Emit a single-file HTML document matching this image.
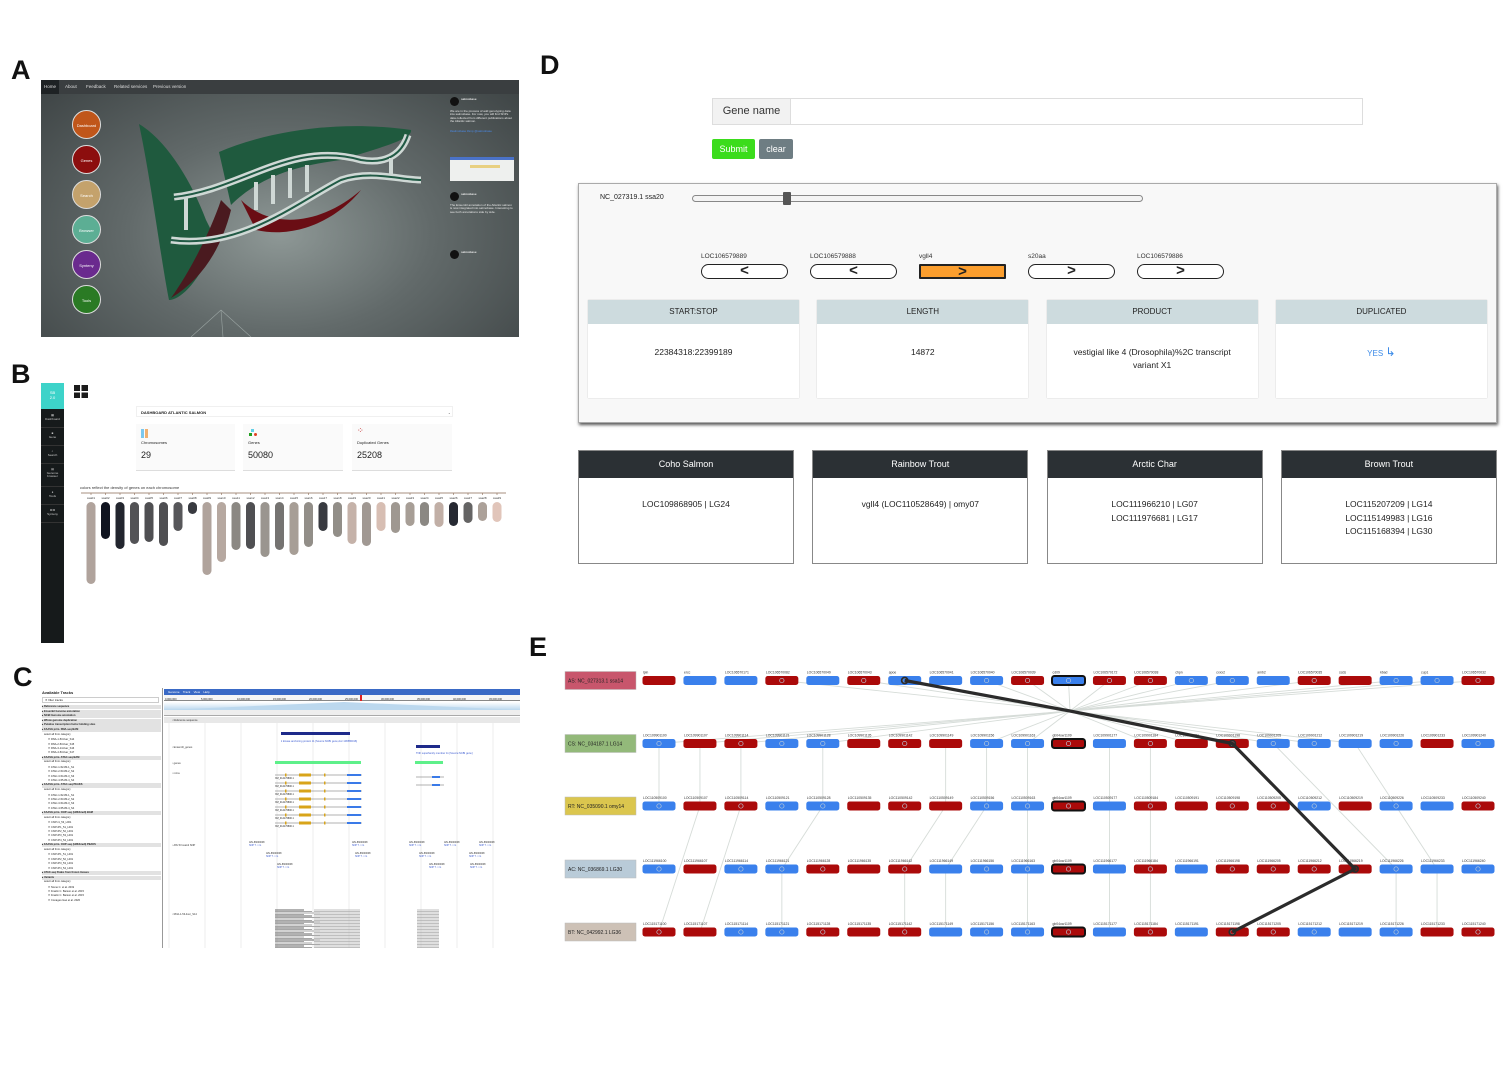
<!DOCTYPE html>
<html><head><meta charset="utf-8">
<style>
*{margin:0;padding:0;box-sizing:border-box}
body{width:1507px;height:1066px;background:#fff;position:relative;overflow:hidden;font-family:"Liberation Sans",sans-serif;color:#222}
.abs{position:absolute}
.plabel{position:absolute;font-size:27px;font-weight:bold;color:#111}
.t{position:absolute;white-space:nowrap}
</style></head><body>

<div class="plabel" style="left:11px;top:55px">A</div>
<div class="plabel" style="left:11px;top:359px">B</div>
<div class="plabel" style="left:13px;top:662px">C</div>
<div class="plabel" style="left:540px;top:50px">D</div>
<div class="plabel" style="left:529px;top:632px">E</div>

<!-- PANEL A -->
<div class="abs" style="left:41px;top:80px;width:478px;height:257px;background:radial-gradient(ellipse at 50% 60%,#8e9896 0%,#626a6a 45%,#3c4243 100%);overflow:hidden">
  <div class="abs" style="left:0;top:0;width:478px;height:14px;background:#3a3e40;font-size:4.5px;color:#ddd">
    <span class="t" style="left:0;top:0;width:18px;height:14px;background:#1e2224;padding:4px 0 0 3px">Home</span>
    <span class="t" style="left:24px;top:4px">About</span>
    <span class="t" style="left:45px;top:4px">Feedback</span>
    <span class="t" style="left:73px;top:4px">Related services</span>
    <span class="t" style="left:112px;top:4px">Previous version</span>
  </div>
  <svg class="abs" style="left:0;top:0" width="478" height="257">
    <path d="M98,44 C125,60 150,100 165,140 L175,160 C160,200 140,220 128,220 C120,180 110,100 98,44Z" fill="#1f5a3e"/>
    <path d="M130,218 C150,190 170,150 180,120 L190,130 C180,170 160,200 130,218Z" fill="#4a1a1f"/>
    <path d="M178,72 C230,50 300,40 370,50 C372,60 330,70 300,80 C260,85 220,95 190,125 Z" fill="#1f5a3e"/>
    <path d="M200,120 C230,150 280,145 320,110 C300,135 260,160 215,150 Z" fill="#6a0d14"/>
    <path d="M133,117 C200,110 250,60 320,80 C350,85 362,70 367,55" stroke="#cfd8d5" stroke-width="7" fill="none"/>
    <path d="M133,117 C200,110 250,60 320,80 C350,85 362,70 367,55" stroke="#215a45" stroke-width="2" fill="none"/>
    <path d="M130,160 C200,170 260,120 300,100 C330,90 360,100 380,100" stroke="#cfd8d5" stroke-width="7" fill="none"/>
    <path d="M130,160 C200,170 260,120 300,100 C330,90 360,100 380,100" stroke="#215a45" stroke-width="2" fill="none"/>
    <g stroke="#cfd8d5" stroke-width="4"><line x1="145" y1="118" x2="145" y2="150"/><line x1="215" y1="102" x2="215" y2="130"/><line x1="232" y1="95" x2="232" y2="124"/><line x1="249" y1="88" x2="249" y2="118"/><line x1="266" y1="85" x2="266" y2="112"/><line x1="350" y1="78" x2="350" y2="95"/></g>
    <path d="M180,230 L150,257 M180,230 L210,257 M180,230 L182,257" stroke="#9aa4a2" stroke-width="0.6" fill="none"/>
  </svg>
  <div class="abs" style="left:31px;top:30px;width:29px;height:29px;border-radius:50%;background:#c0561a;border:1px solid #ddd;font-size:4px;color:#fff;text-align:center;line-height:29px">Dashboard</div>
  <div class="abs" style="left:31px;top:65px;width:29px;height:29px;border-radius:50%;background:#8c0e0e;border:1px solid #ddd;font-size:4px;color:#fff;text-align:center;line-height:29px">Genes</div>
  <div class="abs" style="left:31px;top:100px;width:29px;height:29px;border-radius:50%;background:#c4a26c;border:1px solid #ddd;font-size:4px;color:#fff;text-align:center;line-height:29px">Search</div>
  <div class="abs" style="left:31px;top:135px;width:29px;height:29px;border-radius:50%;background:#5cae94;border:1px solid #ddd;font-size:4px;color:#fff;text-align:center;line-height:29px">Browser</div>
  <div class="abs" style="left:31px;top:170px;width:29px;height:29px;border-radius:50%;background:#6a2a8e;border:1px solid #ddd;font-size:4px;color:#fff;text-align:center;line-height:29px">Synteny</div>
  <div class="abs" style="left:31px;top:205px;width:29px;height:29px;border-radius:50%;background:#2a7a24;border:1px solid #ddd;font-size:4px;color:#fff;text-align:center;line-height:29px">Tools</div>
  <div class="abs" style="left:407px;top:14px;width:70px;height:243px;font-size:3px;color:#e8e8e8;line-height:3.4px">
    <div class="abs" style="left:2px;top:3px;width:9px;height:9px;border-radius:50%;background:#111"></div>
    <div class="t" style="left:13px;top:4px;font-weight:bold">salmobase</div>
    <div class="abs" style="left:2px;top:16px;width:64px;">We are in the process of add genotyping data into salmobase. For now, you will find SNPs data collected from different publications about the Atlantic salmon.</div>
    <div class="abs" style="left:2px;top:36px;width:64px;color:#4a8ae8">#salmobase #snp @salmobase</div>
    <div class="abs" style="left:2px;top:63px;width:64px;height:24px;background:#eef0ee"><div class="abs" style="left:0;top:0;width:64px;height:3px;background:#4a72c8"></div><div class="abs" style="left:20px;top:8px;width:30px;height:3px;background:#e8d080"></div></div>
    <div class="abs" style="left:2px;top:98px;width:9px;height:9px;border-radius:50%;background:#111"></div>
    <div class="t" style="left:13px;top:99px;font-weight:bold">salmobase</div>
    <div class="abs" style="left:2px;top:110px;width:64px;">The Ensembl annotation of the Atlantic salmon is now integrated into salmobase. Interesting to see both annotations side by side.</div>
    <div class="abs" style="left:2px;top:156px;width:9px;height:9px;border-radius:50%;background:#111"></div>
    <div class="t" style="left:13px;top:157px;font-weight:bold">salmobase</div>
  </div>
</div>

<!-- PANEL B -->
<div class="abs" style="left:41px;top:383px;width:23px;height:260px;background:#161a1b">
  <div class="abs" style="left:0;top:0;width:23px;height:26px;background:#3dd3c9;color:#fff;font-size:4px;text-align:center;padding-top:7px">SB<br>2.0</div>
  <div class="abs" style="left:0;top:27px;width:23px;font-size:3px;color:#ccc;text-align:center;line-height:3.5px">
    <div style="height:18px;border-bottom:1px solid #333;padding-top:4px">▦<br>Dashboard</div>
    <div style="height:18px;border-bottom:1px solid #333;padding-top:4px">■<br>Gene</div>
    <div style="height:18px;border-bottom:1px solid #333;padding-top:4px">⌕<br>Search</div>
    <div style="height:23px;border-bottom:1px solid #333;padding-top:4px">▤<br>Genome<br>browser</div>
    <div style="height:18px;border-bottom:1px solid #333;padding-top:4px">●<br>Tools</div>
    <div style="height:18px;border-bottom:1px solid #333;padding-top:4px">⊏⊐<br>Synteny</div>
  </div>
</div>
<div class="abs" style="left:74px;top:385px;width:14px;height:13px;background:linear-gradient(#fff,#fff) 6px 0/1.5px 13px no-repeat,linear-gradient(#fff,#fff) 0 6px/14px 1.5px no-repeat,#1b1b1b"></div>
<div class="abs" style="left:136px;top:406px;width:317px;height:11px;border:1px solid #f0f0f0;font-size:4px;font-weight:bold;padding:3px 0 0 4px">DASHBOARD ATLANTIC SALMON<span style="position:absolute;right:2px">-</span></div>
<div class="abs" style="left:136px;top:424px;width:99px;height:47px;background:#fafafa;border-bottom:1px solid #ddd">
  <div class="abs" style="left:5px;top:5px;width:3px;height:9px;background:#7cc8ee"></div><div class="abs" style="left:9px;top:5px;width:3px;height:9px;background:#f0b070"></div>
  <div class="t" style="left:5px;top:16px;font-size:4px">Chromosomes</div><div class="t" style="left:5px;top:26px;font-size:9px">29</div></div>
<div class="abs" style="left:243px;top:424px;width:100px;height:47px;background:#fafafa;border-bottom:1px solid #ddd">
  <div class="abs" style="left:8px;top:5px;width:3px;height:3px;background:#60d0e8"></div><div class="abs" style="left:6px;top:9px;width:3px;height:3px;background:#20a020"></div><div class="abs" style="left:11px;top:9px;width:3px;height:3px;border-radius:50%;background:#e04020"></div>
  <div class="t" style="left:5px;top:16px;font-size:4px">Genes</div><div class="t" style="left:5px;top:26px;font-size:9px">50080</div></div>
<div class="abs" style="left:352px;top:424px;width:100px;height:47px;background:#fafafa;border-bottom:1px solid #ddd">
  <div class="t" style="left:5px;top:2px;font-size:8px;color:#c02020">⁘</div>
  <div class="t" style="left:5px;top:16px;font-size:4px">Duplicated Genes</div><div class="t" style="left:5px;top:26px;font-size:9px">25208</div></div>
<div class="t" style="left:80px;top:485px;font-size:4px;color:#333">colors reflect the density of genes on each chromosome</div>
<svg class="abs" id="chromSvg" style="left:0;top:0" width="520" height="650"></svg>

<!-- PANEL C -->
<div class="abs" style="left:40px;top:688px;width:480px;height:260px;background:#fff;overflow:hidden;font-size:3px">
  <div class="abs" style="left:0;top:0;width:123px;height:260px;border-right:1px solid #999;background:#fff">
    <div class="t" style="left:2px;top:2px;font-weight:bold;font-size:4px">Available Tracks</div>
    <div class="abs" style="left:2px;top:9px;width:117px;height:6px;border:1px solid #ccc;padding-left:2px">✕ filter tracks</div>
    <div id="trackRows"></div>
  </div>
  <div class="abs" style="left:124px;top:1px;width:356px;height:6px;background:#3a6ac6;color:#fff;padding-left:4px;line-height:6px">Genome&nbsp;&nbsp;&nbsp;&nbsp;Track&nbsp;&nbsp;&nbsp;&nbsp;View&nbsp;&nbsp;&nbsp;&nbsp;Help</div>
  <div class="abs" style="left:124px;top:7px;width:356px;height:6px;border-bottom:1px solid #888;background:#f6f6f6"></div>
  <div class="abs" style="left:320px;top:7px;width:2px;height:6px;background:#e02020"></div>
  <div class="abs" style="left:124px;top:14px;width:356px;height:8px;background:linear-gradient(#fff,#bcd8ee)"></div>
  <div class="abs" style="left:124px;top:22px;width:356px;height:6px;background:#eee;border-bottom:1px solid #aaa"></div>
  <div class="abs" style="left:124px;top:29px;width:356px;height:6px;background:#e8e8e8"></div>
  <svg class="abs" id="browserSvg" style="left:124px;top:0" width="356" height="260"></svg>
</div>

<!-- PANEL D -->
<div class="abs" style="left:712px;top:98px;width:651px;height:27px;border:1px solid #ddd;background:#fff">
  <div class="abs" style="left:0;top:0;width:78px;height:25px;background:#f2f2f2;border-right:1px solid #ddd;font-size:11px;color:#333;text-align:center;line-height:25px">Gene name</div>
</div>
<div class="abs" style="left:712px;top:139px;width:43px;height:20px;background:#3bdc1c;color:#fff;font-size:9px;text-align:center;line-height:20px;border-radius:2px">Submit</div>
<div class="abs" style="left:759px;top:139px;width:34px;height:20px;background:#6e7d83;color:#fff;font-size:9px;text-align:center;line-height:20px;border-radius:2px">clear</div>
<div class="abs" style="left:578px;top:183px;width:919px;height:240px;background:#f8f8f8;border:1px solid #aaa;box-shadow:1px 2px 3px #555">
  <div class="t" style="left:21px;top:10px;font-size:7px">NC_027319.1 ssa20</div>
  <div class="abs" style="left:113px;top:11px;width:451px;height:7px;border:1px solid #888;border-radius:4px;background:#f4f4f4"></div>
  <div class="abs" style="left:204px;top:8px;width:8px;height:13px;background:#555;border-radius:1px"></div>
  <div id="dGenes"></div>
  <div id="dCards"></div>
</div>
<div id="dOrtho"></div>

<!-- PANEL E -->
<svg class="abs" id="synSvg" style="left:0;top:0" width="1507" height="1066"></svg>

<script>
// ---------- Panel B data ----------
const chromNames=["ssa01","ssa02","ssa03","ssa04","ssa05","ssa06","ssa07","ssa08","ssa09","ssa10","ssa11","ssa12","ssa13","ssa14","ssa15","ssa16","ssa17","ssa18","ssa19","ssa20","ssa21","ssa22","ssa23","ssa24","ssa25","ssa26","ssa27","ssa28","ssa29"];
const chromLengths=[82,37,47,42,40,44,29,12,73,60,48,47,55,48,53,45,29,35,42,44,29,31,24,24,25,24,21,19,20];
const chromDensity=[0.28,1.0,0.92,0.7,0.72,0.72,0.68,0.82,0.28,0.25,0.45,0.72,0.38,0.55,0.32,0.42,0.82,0.42,0.18,0.35,0.1,0.36,0.32,0.45,0.2,0.9,0.62,0.3,0.05];
const NS="http://www.w3.org/2000/svg";
function mk(tag,attrs,parent){const e=document.createElementNS(NS,tag);for(const k in attrs)e.setAttribute(k,attrs[k]);parent.appendChild(e);return e;}
(function(){
  const svg=document.getElementById('chromSvg');
  const x0=91,dx=14.5,top=502;
  const yScale=v=>top+v;
  mk('line',{x1:81,y1:493,x2:506,y2:493,stroke:'#8a6a55','stroke-width':0.8},svg);
  function col(d){
    const a=[236,204,192],m=[150,146,140],b=[16,20,32];
    let c;
    if(d<0.4){const f=d/0.4;c=a.map((v,i)=>Math.round(v+(m[i]-v)*f));}
    else{const f=(d-0.4)/0.6;c=m.map((v,i)=>Math.round(v+(b[i]-v)*f));}
    return `rgb(${c})`;}
  chromNames.forEach((n,i)=>{
    const x=x0+i*dx;
    mk('line',{x1:x,y1:493,x2:x,y2:495,stroke:'#8a6a55','stroke-width':0.6},svg);
    const t=mk('text',{x:x,y:499,'font-size':3,'text-anchor':'middle',fill:'#333'},svg);t.textContent=n;
    const r=mk('rect',{x:x-4.5,y:top,width:9,height:yScale(chromLengths[i])-top,rx:4.5,fill:col(chromDensity[i])},svg);
    
    
  });
})();

// ---------- Panel C ----------
(function(){
  const rows=document.getElementById('trackRows');
  const items=[["h","Reference sequence"],["h","Ensembl Genome annotation"],["h","NCBI Genome annotation"],["h","Whole genome duplication"],["h","Putative transcription factor binding sites"],["h","FAASG prim. RNA-seq BAM"],["c","select all from category"],["k","RNA-1-53-liver_S14"],["k","RNA-2-53-liver_S15"],["k","RNA-3-14-liver_S16"],["k","RNA-4-53-liver_S17"],["h","FAASG prim. ATAC-seq BAM"],["c","select all from category"],["k","ATAC-1-52-80-1_S1"],["k","ATAC-2-53-80-2_S2"],["k","ATAC-3-54-80-3_S3"],["k","ATAC-4-55-80-4_S4"],["h","FAASG prim. ATAC-seq PEAKS"],["c","select all from category"],["k","ATAC-1-52-80-1_S1"],["k","ATAC-2-53-80-2_S2"],["k","ATAC-3-54-80-3_S3"],["k","ATAC-4-55-80-4_S4"],["h","FAASG prim. ChIP-seq (H3K4me3) BAM"],["c","select all from category"],["k","ChIP-I1_53_L001"],["k","ChIP-IP1_51_L001"],["k","ChIP-IP2_52_L001"],["k","ChIP-IP3_53_L001"],["k","ChIP-IP4_54_L001"],["h","FAASG prim. ChIP-seq (H3K4me3) PEAKS"],["c","select all from category"],["k","ChIP-IP1_51_L001"],["k","ChIP-IP2_52_L001"],["k","ChIP-IP3_53_L001"],["k","ChIP-IP4_54_L001"],["h","ATAC-seq Peaks from frozen tissues"],["h","Variants"],["c","select all from category"],["k","Nome C. et al. 2019"],["k","Fraslin C. Barson et al. 2015"],["k","Fraslin C. Barson et al. 2015"],["k","Conageo Gao et al. 2020"]];
  let y=17;
  items.forEach(([t,s])=>{
    const d=document.createElement('div');
    d.className='t';
    d.style.cssText=`left:2px;top:${y}px;width:119px;height:4.2px;line-height:4.2px;font-size:2.6px;`+(t==='h'?'background:#e2e2e2;font-weight:bold':'')+(t==='k'?'padding-left:6px':'')+(t==='c'?'padding-left:2px;height:5px':'');
    d.textContent=(t==='h'?'▸ ':t==='k'?'☐ ':'')+s;
    
    
    rows.appendChild(d);
    y+= t==='h'?4.6:t==='c'?5.5:4.4;
  });
  const svg=document.getElementById('browserSvg');
  for(let i=0;i<10;i++){const x=5+i*36;mk('line',{x1:x,y1:35,x2:x,y2:260,stroke:'#ddd','stroke-width':0.5},svg);
    const t=mk('text',{x:x-4,y:12,'font-size':2.6,fill:'#222'},svg);t.textContent=(i*5)+',000,000';}
  mk('polygon',{points:'0,22 180,14 356,22',fill:'#bcd8ee'},svg);
  mk('rect',{x:117,y:44,width:69,height:3,fill:'#1e2a8a'},svg);
  mk('rect',{x:252,y:57,width:24,height:3,fill:'#1e2a8a'},svg);
  mk('text',{x:117,y:54,'font-size':2.6,fill:'#3a5ad0'},svg).textContent='ii kinase anchoring protein 11 [Source:NCBI gene;Acc:106580016]';
  mk('text',{x:252,y:66,'font-size':2.6,fill:'#3a5ad0'},svg).textContent='TNF superfamily member 11 [Source:NCBI gene]';
  mk('rect',{x:111,y:73,width:86,height:3,fill:'#5ef08a'},svg);
  mk('rect',{x:251,y:73,width:28,height:3,fill:'#5ef08a'},svg);
  for(let r=0;r<7;r++){const y=87+r*8;
    mk('line',{x1:111,y1:y,x2:198,y2:y,stroke:'#666','stroke-width':0.6},svg);
    mk('rect',{x:135,y:y-1.5,width:12,height:3,fill:'#d8a41a'},svg);
    mk('rect',{x:183,y:y-1,width:14,height:2,fill:'#3a7ae8'},svg);
    mk('rect',{x:121,y:y-1.5,width:1.5,height:3,fill:'#d8a41a'},svg);
    mk('rect',{x:160,y:y-1.5,width:1.5,height:3,fill:'#d8a41a'},svg);
    mk('text',{x:111,y:y+4,'font-size':2.4,fill:'#222'},svg).textContent='XM_014170800.1';}
  mk('line',{x1:252,y1:89,x2:280,y2:89,stroke:'#666','stroke-width':0.6},svg);
  mk('rect',{x:268,y:88,width:8,height:2,fill:'#3a7ae8'},svg);
  mk('line',{x1:252,y1:97,x2:280,y2:97,stroke:'#666','stroke-width':0.6},svg);
  mk('rect',{x:268,y:96,width:8,height:2,fill:'#3a7ae8'},svg);
  const snps=[[85,155],[102,166],[113,177],[188,155],[191,166],[245,155],[255,166],[265,177],[280,155],[305,166],[315,155],[306,177]];
  snps.forEach(([x,y])=>{mk('text',{x:x,y:y,'font-size':2.4,fill:'#333'},svg).textContent='Affx-86000008';
    mk('text',{x:x,y:y+3,'font-size':2.4,fill:'#3a5ad0'},svg).textContent='SNP T -> G';});
  for(let r=0;r<26;r++){const y=222+r*1.5;
    mk('line',{x1:111,y1:y,x2:140+(r%3)*8,y2:y,stroke:r%4?'#888':'#333','stroke-width':0.7},svg);
    mk('line',{x1:150,y1:y,x2:196,y2:y,stroke:'#aaa','stroke-width':0.7},svg);
    mk('line',{x1:253,y1:y,x2:275,y2:y,stroke:'#aaa','stroke-width':0.7},svg);}
  ['Reference sequence','Ensembl_genes','genes','mrna','Affx 53 ssa12 SNP','RNA-1-53-liver_S14'].forEach((s,i)=>{
    const ys=[33,60,76,86,158,227];mk('text',{x:8,y:ys[i],'font-size':2.6,fill:'#333'},svg).textContent='▫ '+s;});
})();

// ---------- Panel D ----------
const dGeneNames=["LOC106579889","LOC106579888","vgll4","s20aa","LOC106579886"];
const dGeneDir=["<","<",">",">",">"];
const dCardHeads=["START:STOP","LENGTH","PRODUCT","DUPLICATED"];
const dCardVals=["22384318:22399189","14872","vestigial like 4 (Drosophila)%2C transcript<br>variant X1","<span style='color:#3a8ae8;font-size:8px'>YES</span> <span style='color:#3a8ae8;font-size:12px'>↳</span>"];
const orthoSpecies=["Coho Salmon","Rainbow Trout","Arctic Char","Brown Trout"];
const orthoVals=["LOC109868905 | LG24","vgll4 (LOC110528649) | omy07","LOC111966210 | LG07<br>LOC111976681 | LG17","LOC115207209 | LG14<br>LOC115149983 | LG16<br>LOC115168394 | LG30"];
(function(){
  const g=document.getElementById('dGenes');
  dGeneNames.forEach((n,i)=>{
    const x=122+i*109;
    const lab=document.createElement('div');lab.className='t';lab.style.cssText=`left:${x}px;top:69px;font-size:6.5px;color:#333`;lab.textContent=n;
    g.appendChild(lab);
    const b=document.createElement('div');b.className='abs';
    const sel=n==='vgll4';
    b.style.cssText=`left:${x}px;top:80px;width:87px;height:15px;border:${sel?2:1}px solid #222;border-radius:${sel?1:8}px;background:${sel?'#fb9e2e':'#fff'};text-align:center;font-size:15px;line-height:12px;font-weight:bold`;
    b.textContent=dGeneDir[i];
    g.appendChild(b);
  });
  const c=document.getElementById('dCards');
  dCardHeads.forEach((h,i)=>{
    const x=9+i*229.3;
    const d=document.createElement('div');d.className='abs';
    d.style.cssText=`left:${x}px;top:116px;width:211px;height:98px;background:#fff;box-shadow:0 0 1px #bbb`;
    d.innerHTML=`<div style="height:24px;background:#cddbde;font-size:8px;text-align:center;line-height:24px;color:#222">${h}</div><div style="padding-top:22px;font-size:8.5px;text-align:center;line-height:13px;color:#222">${dCardVals[i]}</div>`;
    c.appendChild(d);
  });
  const o=document.getElementById('dOrtho');
  orthoSpecies.forEach((s,i)=>{
    const x=578+i*234.3;
    const d=document.createElement('div');d.className='abs';
    d.style.cssText=`left:${x}px;top:450px;width:216px;height:114px;background:#fff;border:1px solid #888`;
    d.innerHTML=`<div style="height:27px;background:#2b3034;color:#fff;font-size:9px;text-align:center;line-height:27px">${s}</div><div style="padding-top:20px;font-size:8.5px;text-align:center;line-height:13.5px;color:#222">${orthoVals[i]}</div>`;
    o.appendChild(d);
  });
})();

// ---------- Panel E data ----------
const rowLabels=["AS: NC_027313.1 ssa14","CS: NC_034187.1 LG14","RT: NC_035090.1 omy14","AC: NC_036869.1 LG30","BT: NC_042992.1 LG36"];
const rowColors=["#c8566c","#93b97a","#dbc64e","#b9cbd8","#cdc1b6"];
const rowStrands=[
 [1,0,0,1,0,1,0,0,0,1,0,1,1,0,0,0,1,1,0,0,1],
 [0,1,1,0,0,1,1,1,0,0,1,0,1,1,1,0,0,0,0,1,0],
 [0,1,1,0,0,1,1,1,0,0,1,0,1,1,1,1,0,1,0,0,1],
 [0,1,0,0,1,1,1,0,0,0,1,0,1,0,1,1,1,1,0,0,0],
 [1,1,0,0,1,1,1,0,0,0,1,0,1,0,1,1,0,0,0,1,1]];
const focalIndex=10;
const asNames=["lpin","ercc","LOC106570171","LOC106570082","LOC106570049","LOC106570043","apoe","LOC106570041","LOC106570040","LOC106570039","cd09","LOC106570172","LOC106570038","chpn","cxxx2","amb2","LOC106570035","scds","kbad","cup1","LOC106570032"];
const rowPrefix=["LOC106570","LOC109901","LOC110509","LOC111966","LOC115171"];
const asToHub=[3,5,6,8,9,10,11,12,13,14,16,18,19,20];
const hubToCs=[0,1,2,4,8,9,12,13,15,16,17];
const links=[[1,0,2,0],[1,1,2,1],[1,2,2,2],[1,4,2,4],[1,7,2,7],[1,8,2,8],[1,9,2,9],[1,11,2,11],[1,12,2,12],[1,15,3,18],[1,17,3,19],
 [2,1,4,0],[2,2,4,1],[2,4,3,3],[3,3,4,3],[2,7,3,6],[3,6,4,6],[2,8,3,7],[3,7,4,7],[2,9,3,9],[3,9,4,9],[2,11,3,11],[3,11,4,11],[2,12,3,12],[3,12,4,12],[3,18,4,18],[3,19,4,19]];
const pathNodes=[[0,6],[-1,0],[1,14],[3,17],[4,14]];
(function(){
  const svg=document.getElementById('synSvg');
  const xS=i=>659+i*40.95;
  const yS=r=>[680.5,743.5,806,869,932][r];
  const hub={x:1070,y:711};
  const pt=(r,i)=>r<0?hub:{x:xS(i),y:yS(r)};
  const gl=mk('g',{},svg);
  asToHub.forEach(i=>{const a=pt(0,i);const l=mk('line',{x1:a.x,y1:a.y,x2:hub.x,y2:hub.y,stroke:'#d6dcd8','stroke-width':0.9},gl);});
  hubToCs.forEach(i=>{const a=pt(1,i);const l=mk('line',{x1:hub.x,y1:hub.y,x2:a.x,y2:a.y,stroke:'#d6dcd8','stroke-width':0.9},gl);});
  links.forEach(([r1,i1,r2,i2])=>{const a=pt(r1,i1),b=pt(r2,i2);const l=mk('line',{x1:a.x,y1:a.y,x2:b.x,y2:b.y,stroke:'#d6dcd8','stroke-width':0.9},gl);});
  rowLabels.forEach((lab,r)=>{
    const y=yS(r);
    const rb=mk('rect',{x:565,y:y-9,width:71,height:18,fill:rowColors[r],stroke:'#bbb','stroke-width':0.5},svg);
    
    const t=mk('text',{x:568,y:y+2,'font-size':5,fill:'#222','font-family':'Liberation Sans'},svg);t.textContent=lab;
    rowStrands[r].forEach((s,i)=>{
      const x=xS(i);
      const nm=r===0?asNames[i]:(i===focalIndex?'gb04ow1109':rowPrefix[r]+String(100+i*7).slice(-3));
      const tt=mk('text',{x:x-16,y:y-7,'font-size':3.4,fill:'#333'},svg);tt.textContent=nm;
      const focal=i===focalIndex;
      const g=mk('rect',{x:x-16.5,y:y-4.5,width:33,height:9,rx:2.5,fill:s?'#ab0a0a':'#3a80ec',stroke:focal?'#111':'none','stroke-width':focal?2:0},svg);
      
      
      if(r>0||asToHub.includes(i)){ if((r===0&&asToHub.includes(i))||(i%2===0||i%3===0)) mk('circle',{cx:x,cy:y,r:2.2,fill:'none',stroke:'#b8c8d8','stroke-width':0.7},svg);}
    });
  });
  const d=pathNodes.map(([r,i],k)=>{const p=pt(r,i);return (k?'L':'M')+p.x+','+p.y;}).join(' ');
  const p=mk('path',{d:d,stroke:'#2b2b2b','stroke-width':3.2,fill:'none','stroke-linejoin':'round'},svg);
  
  
  pathNodes.filter(n=>n[0]>=0).forEach(([r,i])=>{const q=pt(r,i);mk('circle',{cx:q.x,cy:q.y,r:3,fill:'none',stroke:'#2b2b2b','stroke-width':1.8},svg);});
})();
</script>
</body></html>
